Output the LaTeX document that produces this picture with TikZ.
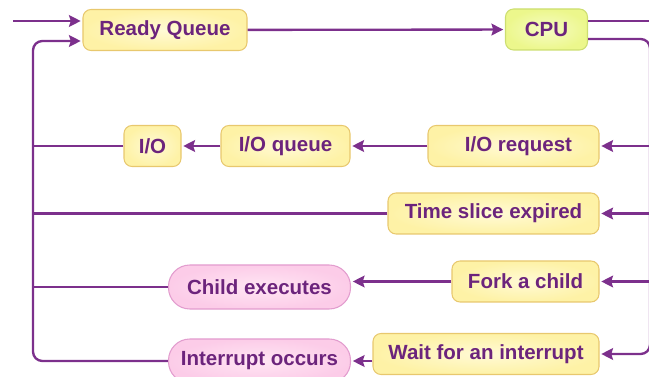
\documentclass[tikz,border=0pt]{standalone}
\usepackage{fontspec}
\setmainfont{Liberation Sans}
\usetikzlibrary{arrows.meta}

\definecolor{flowpurple}{RGB}{124,48,140}
\definecolor{textpurple}{RGB}{108,36,124}
\definecolor{qfill}{RGB}{254,242,166}
\definecolor{qfillin}{RGB}{255,250,214}
\definecolor{qdraw}{RGB}{232,200,110}
\definecolor{cpufill}{RGB}{236,247,140}
\definecolor{cpufillin}{RGB}{246,252,196}
\definecolor{cpudraw}{RGB}{204,222,112}
\definecolor{evfill}{RGB}{252,204,232}
\definecolor{evfillin}{RGB}{255,230,244}
\definecolor{evdraw}{RGB}{226,156,206}

\tikzset{
  qbox/.style={draw=qdraw, line width=0.9pt, rounded corners=0.24cm,
    inner color=qfillin, outer color=qfill,
    minimum height=1.23cm, text=textpurple,
    font=\fontsize{17.5}{20}\selectfont\bfseries},
  cpubox/.style={qbox, draw=cpudraw, inner color=cpufillin, outer color=cpufill},
  evbox/.style={qbox, draw=evdraw, inner color=evfillin, outer color=evfill,
    rounded corners=0.64cm, minimum height=1.32cm},
  flow/.style={draw=flowpurple, line width=2pt},
  tip/.style={-{Stealth[length=10pt,width=10pt,inset=1.5pt]}, shorten >=1.5pt}
}

\begin{document}
\begin{tikzpicture}[x=0.03cm,y=-0.03cm]
  \useasboundingbox (0,0) rectangle (649,377);

  % queues and events
  \node[qbox, minimum width=4.92cm] (rq) at (165,30) {Ready Queue};
  \node[cpubox, minimum width=2.46cm] (cpu) at (546.5,29.5) {CPU};
  \node[qbox, minimum width=1.71cm] (io) at (152.5,146) {I/O};
  \node[qbox, minimum width=3.87cm] (ioq) at (285.5,146) {I/O queue};
  \node[qbox, minimum width=5.13cm] (ioreq) at (513.5,146) {\hspace{0.3cm}I/O request};
  \node[qbox, minimum width=6.33cm] (tse) at (493.5,213.5) {Time slice expired};
  \node[qbox, minimum width=4.41cm] (fork) at (525.5,281.5) {Fork a child};
  \node[qbox, minimum width=6.78cm] (wait) at (486,354) {Wait for an interrupt};
  \node[evbox, minimum width=5.46cm] (child) at (259.5,287) {Child executes};
  \node[evbox, minimum width=5.46cm] (intr) at (259.5,361) {Interrupt occurs};

  % bus lines on both sides
  \coordinate (lbus) at (33,200);
  \coordinate (rbus) at (650,200);
  \coordinate (start) at (13,21);

  % into the ready queue and on to the cpu
  \draw[flow,tip] (start) -- (rq.west |- start);
  \draw[flow,tip] (rq) -- (cpu);
  \draw[flow] ([yshift=0.255cm]cpu.east) -- ++(2cm,0);

  % cpu out to the right bus
  \draw[flow,tip,rounded corners=8pt] ([yshift=-0.285cm]cpu.east) -| (rbus) |- (wait.east);
  \draw[flow,tip] (ioreq.east -| rbus) -- (ioreq.east);
  \draw[flow,tip] (tse.east -| rbus) -- (tse.east);
  \draw[flow,tip] (fork.east -| rbus) -- (fork.east);

  % event chains
  \draw[flow,tip] (ioreq) -- (ioq);
  \draw[flow,tip] (ioq) -- (io);
  \draw[flow,tip] (fork.west) -- (child.east |- fork.west);
  \draw[flow,tip] (wait.west |- intr.east) -- (intr.east);

  % back to the ready queue on the left bus
  \draw[flow,tip,rounded corners=8pt] (intr.west) -| (lbus) |- ([yshift=-0.33cm]rq.west);
  \draw[flow] (io.west) -- (io.west -| lbus);
  \draw[flow] (tse.west) -- (tse.west -| lbus);
  \draw[flow] (child.west) -- (child.west -| lbus);
\end{tikzpicture}
\end{document}
